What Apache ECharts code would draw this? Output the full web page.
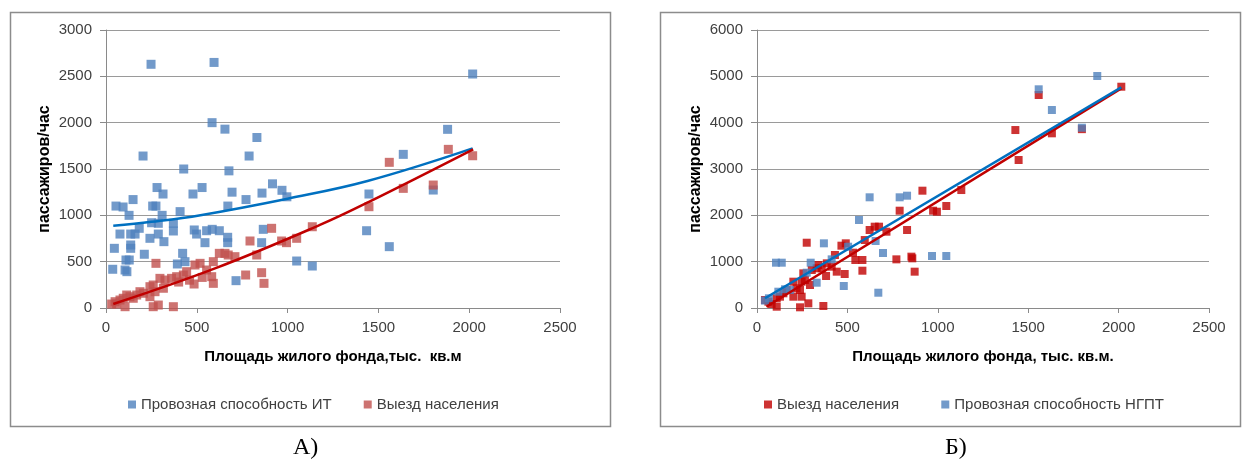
<!DOCTYPE html>
<html><head><meta charset="utf-8">
<script src="https://cdn.jsdelivr.net/npm/echarts@6/dist/echarts.min.js"></script>
<style>html,body{margin:0;padding:0;background:#fff}#c{width:1243px;height:461px}</style>
</head><body><div id="c"></div>
<script>
// ---- data ----
const xTicks = [0, 500, 1000, 1500, 2000, 2500];
const yTicksA = [0, 500, 1000, 1500, 2000, 2500, 3000];
const yTicksB = [0, 1000, 2000, 3000, 4000, 5000, 6000];

const nameIT = "Провозная способность ИТ";
const nameExit = "Выезд населения";
const nameNGPT = "Провозная способность НГПТ";

// Chart A: capacity of individual transport (blue)
const itA = [[248,2630],[595,2650],[584,2000],[655,1930],[204,1640],[428,1500],[677,1480],[788,1640],[831,1840],[917,1340],[281,1300],[529,1300],[479,1230],[314,1230],[694,1250],[859,1240],[969,1270],[996,1200],[771,1170],[149,1170],[55,1100],[94,1090],[127,1000],[257,1100],[275,1100],[309,1000],[408,1040],[671,1100],
[251,920],[288,914],[183,860],[371,914],[371,831],[77,798],[136,798],[160,798],[242,752],[288,798],[319,716],[486,842],[499,798],[554,834],[585,849],[624,834],[545,705],[670,763],[670,705],[866,849],[857,705],[46,644],[136,680],[136,644],[211,580],[422,590],[435,500],[110,518],[128,518],[37,418],[105,410],[115,392],[393,475],[1050,507],[1136,453],[716,295],[1435,834],[1560,662],[1448,1230],[1637,1658],[1881,1928],[2019,2525],[1802,1273]];
// Chart A: departure of population (red)
const exitA = [[31,43],[50,68],[59,43],[77,86],[95,105],[105,14],[114,140],[132,122],[150,105],[169,140],[187,176],[206,159],[242,230],[242,122],[260,248],[260,14],[270,176],[288,32],[297,320],[316,213],[325,302],[275,482],[361,320],[371,14],[389,338],[400,280],[426,356],[444,392],[460,300],[485,259],[490,464],[518,482],[530,330],[554,410],[582,338],[591,266],[591,500],[624,590],[655,590],[673,572],[710,554],[769,356],[793,723],[830,572],[857,381],[870,266],[912,860],[967,723],[994,705],[1050,752],[1136,877],[1448,1093],[1560,1572],[1637,1291],[1802,1327],[1885,1712],[2019,1643]];
// Chart A trend lines
const trendItA = [[40,888],[250,930],[520,1002],[1000,1180],[1440,1370],[2019,1722]];
const trendExitA = [[40,43],[600,427],[1178,896],[1448,1145],[2022,1712]];

// Chart B: departure of population (red)
const exitB = [[44,173],[63,136],[81,86],[109,28],[109,209],[127,244],[146,317],[164,388],[201,568],[201,244],[219,425],[238,388],[238,15],[247,568],[247,244],[256,748],[265,604],[275,1409],[284,101],[293,496],[303,820],[330,857],[339,928],[358,857],[367,43],[382,691],[386,964],[413,892],[431,1144],[441,784],[467,1345],[491,1396],[485,734],[531,1194],[544,1036],[583,1036],[583,805],[596,1467],[623,1683],[651,1755],[675,1755],[716,1647],[771,1050],[789,2100],[830,1683],[854,1108],[859,1072],[872,784],[915,2532],[974,2100],[995,2078],[1047,2201],[1130,2546],[1429,3841],[1447,3194],[1558,4597],[1631,3770],[1797,3860],[2015,4776]];
// Chart B: capacity of public transport (blue)
const ngptB = [[44,160],[66,209],[105,978],[137,978],[118,352],[155,404],[182,389],[275,762],[297,978],[330,546],[370,1396],[413,1050],[480,475],[504,1323],[564,1899],[623,2389],[656,1446],[671,330],[697,1187],[789,2389],[830,2424],[968,1122],[1047,1122],[1558,4720],[1631,4273],[1797,3891],[1882,5007]];
const trendExitB = [[52,28],[2017,4745]];
const trendNgptB = [[44,211],[2015,4762]];

// ---- styles ----
const FONT = "'Liberation Sans', Arial, sans-serif";
const C_BLUE = '#4F81BD', C_REDA = '#C0504D', C_REDB = '#C00000';
const C_TBLUE = '#0070C0', C_TRED = '#C00000';
const GRID_C = '#9a9a9a', AXIS_C = '#8a8a8a';

function xAxisCfg(gi, title) {
  return {
    type: 'value', gridIndex: gi, min: 0, max: 2500, interval: 500,
    name: title, nameLocation: 'middle', nameGap: 41,
    nameTextStyle: { fontFamily: FONT, fontSize: 15, fontWeight: 'bold', color: '#000' },
    axisLine: { show: true, lineStyle: { color: AXIS_C, width: 1 } },
    axisTick: { show: true, length: 5, lineStyle: { color: AXIS_C } },
    axisLabel: { fontFamily: FONT, fontSize: 15, color: '#404040', margin: 12,
      formatter: v => xTicks.includes(v) ? String(v) : '' },
    splitLine: { show: false }
  };
}
function yAxisCfg(gi, max, interval, ticks) {
  return {
    type: 'value', gridIndex: gi, min: 0, max: max, interval: interval,
    name: 'пассажиров/час', nameLocation: 'middle', nameGap: 53, nameRotate: 90,
    nameTextStyle: { fontFamily: FONT, fontSize: 16, fontWeight: 'bold', color: '#000' },
    axisLine: { show: true, lineStyle: { color: AXIS_C, width: 1 } },
    axisTick: { show: true, length: 6, lineStyle: { color: AXIS_C } },
    axisLabel: { fontFamily: FONT, fontSize: 15, color: '#404040', margin: 14,
      formatter: v => ticks.includes(v) ? String(v) : '' },
    splitLine: { show: true, lineStyle: { color: GRID_C, width: 1 } }
  };
}
function scatter(name, data, color, xi, size) {
  return { name: name, type: 'scatter', xAxisIndex: xi, yAxisIndex: xi, data: data,
    symbol: 'rect', symbolSize: size,
    itemStyle: { color: color },
    emphasis: { disabled: true } };
}
function trend(name, data, color, xi, smooth) {
  return { name: name, type: 'line', xAxisIndex: xi, yAxisIndex: xi, data: data,
    showSymbol: false, smooth: smooth, lineStyle: { color: color, width: 2.5 },
    itemStyle: { color: color }, z: 5, silent: true };
}

const chart = echarts.init(document.getElementById('c'), null, { renderer: 'canvas' });
chart.setOption({
  animation: false,
  backgroundColor: '#fff',
  grid: [
    { left: 106, top: 30, width: 454, height: 278 },
    { left: 757, top: 30, width: 452, height: 278 }
  ],
  xAxis: [xAxisCfg(0, 'Площадь жилого фонда,тыс.  кв.м'), xAxisCfg(1, 'Площадь жилого фонда, тыс. кв.м.')],
  yAxis: [yAxisCfg(0, 3000, 500, yTicksA), yAxisCfg(1, 6000, 1000, yTicksB)],
  legend: [
    { left: 123, top: 392, itemWidth: 8, itemHeight: 8, itemGap: 32, icon: 'rect',
      textStyle: { fontFamily: FONT, fontSize: 15, color: '#404040' },
      data: [{ name: nameIT, itemStyle: { color: C_BLUE } }, { name: nameExit, itemStyle: { color: C_REDA } }] },
    { left: 759, top: 392, itemWidth: 8, itemHeight: 8, itemGap: 38, icon: 'rect',
      textStyle: { fontFamily: FONT, fontSize: 15, color: '#404040' },
      data: [{ name: nameExit + ' ', itemStyle: { color: C_REDB } }, { name: nameNGPT, itemStyle: { color: C_BLUE } }] }
  ],
  series: [
    scatter(nameIT, itA, C_BLUE, 0, 9),
    scatter(nameExit, exitA, C_REDA, 0, 9),
    trend('trendItA', trendItA, C_TBLUE, 0, 0.4),
    trend('trendExitA', trendExitA, C_TRED, 0, 0.4),
    scatter(nameExit + ' ', exitB, C_REDB, 1, 8),
    scatter(nameNGPT, ngptB, C_BLUE, 1, 8),
    trend('trendExitB', trendExitB, C_TRED, 1, false),
    trend('trendNgptB', trendNgptB, C_TBLUE, 1, false)
  ],
  graphic: [
    { type: 'rect', shape: { x: 10.5, y: 12.5, width: 600, height: 414 }, style: { fill: 'none', stroke: '#8c8c8c', lineWidth: 1.5 }, silent: true },
    { type: 'rect', shape: { x: 660.5, y: 12.5, width: 580, height: 414 }, style: { fill: 'none', stroke: '#8c8c8c', lineWidth: 1.5 }, silent: true },
    { type: 'text', left: 293, top: 436, style: { text: 'А)', font: "24px 'Liberation Serif', 'Times New Roman', serif", fill: '#000' } },
    { type: 'text', left: 945, top: 436, style: { text: 'Б)', font: "24px 'Liberation Serif', 'Times New Roman', serif", fill: '#000' } }
  ]
});
</script></body></html>
